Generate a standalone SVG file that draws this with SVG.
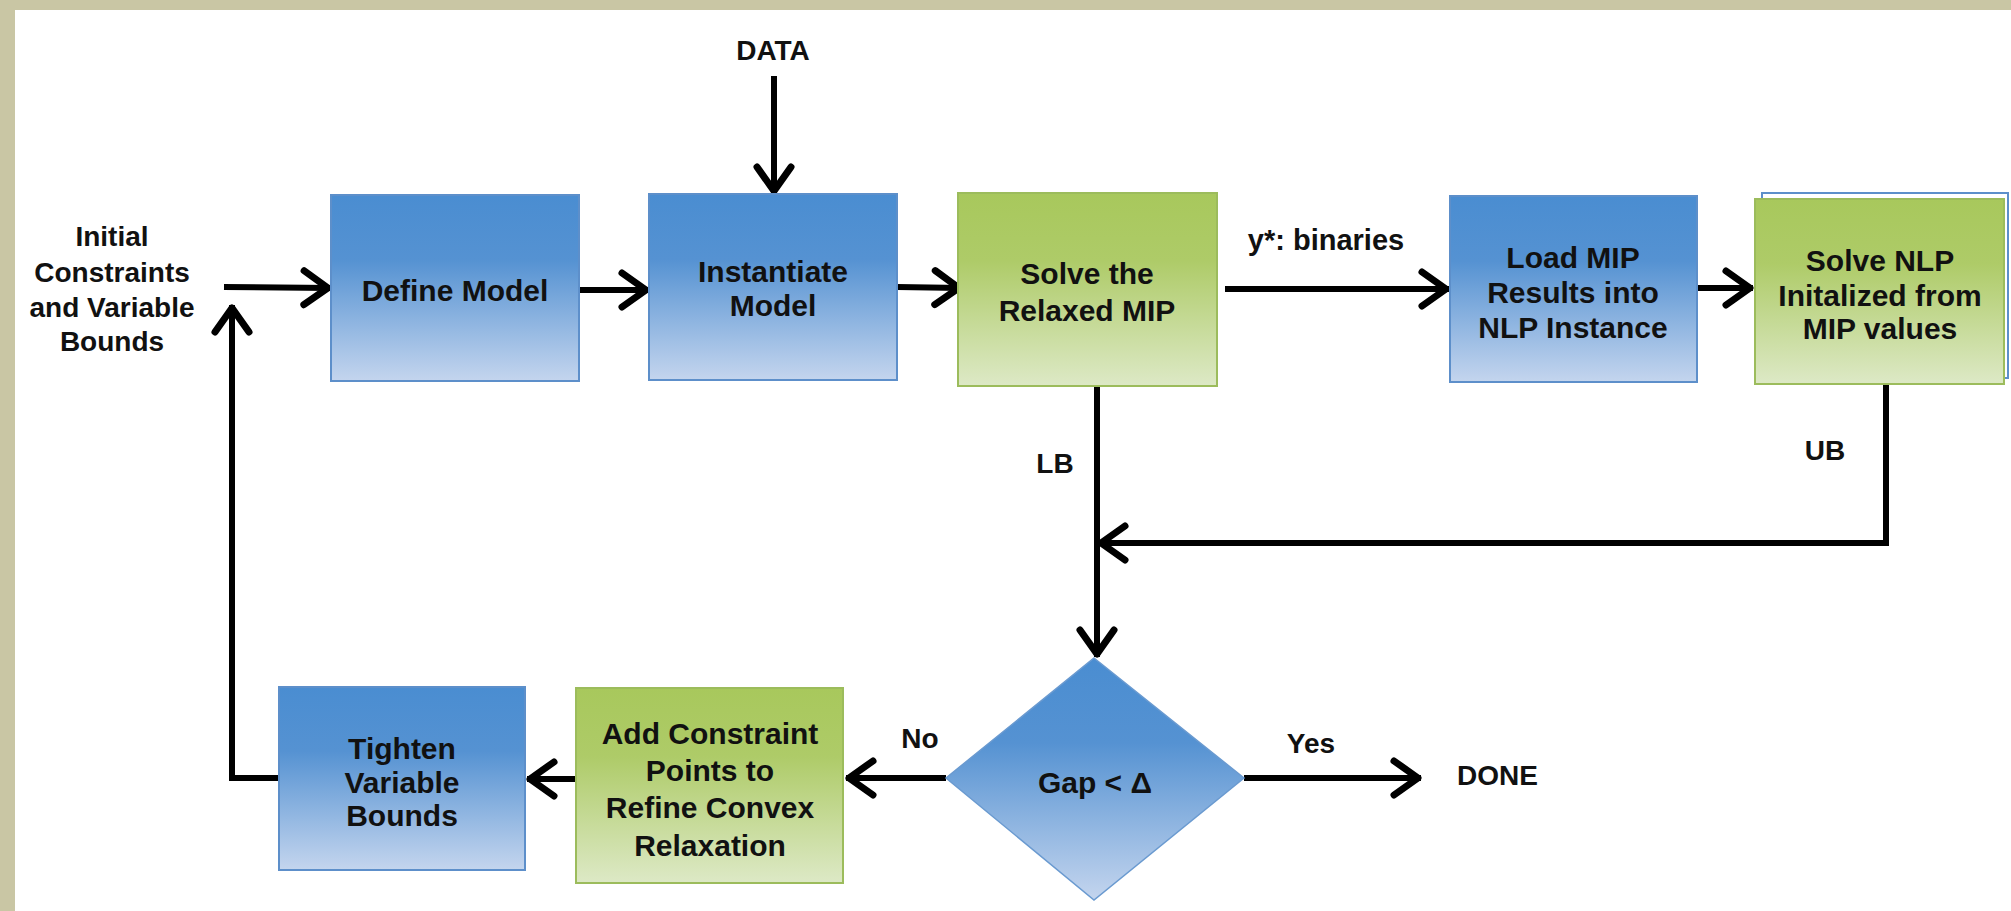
<svg xmlns="http://www.w3.org/2000/svg" width="2011" height="911" viewBox="0 0 2011 911">
<defs>
<linearGradient id="gBlue" x1="0" y1="0" x2="0" y2="1">
<stop offset="0" stop-color="#4a8dd1"/>
<stop offset="0.35" stop-color="#5592d2"/>
<stop offset="1" stop-color="#c4d5ee"/>
</linearGradient>
<linearGradient id="gGreen" x1="0" y1="0" x2="0" y2="1">
<stop offset="0" stop-color="#a8c85c"/>
<stop offset="0.35" stop-color="#aecb68"/>
<stop offset="1" stop-color="#dde9c6"/>
</linearGradient>
<marker id="arr" markerUnits="userSpaceOnUse" markerWidth="44" markerHeight="44" viewBox="-36 -22 44 44" refX="0" refY="0" orient="auto" overflow="visible">
<path d="M-27,-17 L-3,0 L-27,17" fill="none" stroke="#000" stroke-width="7" stroke-linecap="round" stroke-linejoin="round"/>
</marker>
<style>
.lbl{font-family:"Liberation Sans",Arial,sans-serif;font-weight:bold;font-size:28px;fill:#111;text-anchor:middle}
.nt{font-family:"Liberation Sans",Arial,sans-serif;font-weight:bold;font-size:30px;fill:#111;text-anchor:middle}
.bb{fill:url(#gBlue);stroke:#5d8fca;stroke-width:2}
.gb{fill:url(#gGreen);stroke:#9cbc5c;stroke-width:2}
.ln{fill:none;stroke:#000;stroke-width:6}
.ar{marker-end:url(#arr)}
</style>
</defs>
<rect x="0" y="0" width="2011" height="911" fill="#c9c6a4"/>
<rect x="15" y="10" width="1996" height="901" fill="#ffffff"/>

<g id="labels">
<text class="lbl" x="112" y="246">Initial</text>
<text class="lbl" x="112" y="282">Constraints</text>
<text class="lbl" x="112" y="317">and Variable</text>
<text class="lbl" x="112" y="351">Bounds</text>
<text class="lbl" x="773" y="60">DATA</text>
<text class="lbl" x="1326" y="250" style="font-size:29px">y*: binaries</text>
<text class="lbl" x="1055" y="473">LB</text>
<text class="lbl" x="1825" y="460">UB</text>
<text class="lbl" x="920" y="748">No</text>
<text class="lbl" x="1311" y="753">Yes</text>
<text class="lbl" x="1457" y="785" style="text-anchor:start">DONE</text>
</g>

<g id="connectors">
<path class="ln ar" d="M224,287 L331,288"/>
<path class="ln ar" d="M579,290 L649,290"/>
<path class="ln ar" d="M774,76 L774,194"/>
<path class="ln ar" d="M897,287 L962,288"/>
<path class="ln ar" d="M1225,289 L1449,289"/>
<path class="ln ar" d="M1698,288 L1753,288"/>
<path class="ln ar" d="M1097,386 L1097,657"/>
<path class="ln ar" d="M1886,384 L1886,543 L1098,543"/>
<path class="ln ar" d="M946,778 L846,778"/>
<path class="ln ar" d="M576,779 L527,779"/>
<path class="ln ar" d="M279,778 L232,778 L232,305"/>
<path class="ln ar" d="M1244,778 L1421,778"/>
</g>

<g id="n-define">
<rect class="bb" x="331" y="195" width="248" height="186"/>
<text class="nt" x="455" y="301">Define Model</text>
</g>
<g id="n-instantiate">
<rect class="bb" x="649" y="194" width="248" height="186"/>
<text class="nt" x="773" y="282">Instantiate</text>
<text class="nt" x="773" y="316">Model</text>
</g>
<g id="n-relaxed">
<rect class="gb" x="958" y="193" width="259" height="193"/>
<text class="nt" x="1087" y="284">Solve the</text>
<text class="nt" x="1087" y="321">Relaxed MIP</text>
</g>
<g id="n-load">
<rect class="bb" x="1450" y="196" width="247" height="186"/>
<text class="nt" x="1573" y="268">Load MIP</text>
<text class="nt" x="1573" y="303">Results into</text>
<text class="nt" x="1573" y="338">NLP Instance</text>
</g>
<g id="n-nlp">
<rect x="1762" y="193" width="246" height="185" fill="#fff" stroke="#5d8fca" stroke-width="2"/>
<rect class="gb" x="1755" y="199" width="249" height="185"/>
<text class="nt" x="1880" y="271">Solve NLP</text>
<text class="nt" x="1880" y="306">Initalized from</text>
<text class="nt" x="1880" y="339">MIP values</text>
</g>
<g id="n-gap">
<polygon points="1094,658 1244,778 1094,900 946,778" fill="url(#gBlue)" stroke="#6a9ad0" stroke-width="1.5"/>
<text class="nt" x="1095" y="793">Gap &lt; Δ</text>
</g>
<g id="n-add">
<rect class="gb" x="576" y="688" width="267" height="195"/>
<text class="nt" x="710" y="744">Add Constraint</text>
<text class="nt" x="710" y="781">Points to</text>
<text class="nt" x="710" y="818">Refine Convex</text>
<text class="nt" x="710" y="856">Relaxation</text>
</g>
<g id="n-tighten">
<rect class="bb" x="279" y="687" width="246" height="183"/>
<text class="nt" x="402" y="759">Tighten</text>
<text class="nt" x="402" y="793">Variable</text>
<text class="nt" x="402" y="826">Bounds</text>
</g>
</svg>
